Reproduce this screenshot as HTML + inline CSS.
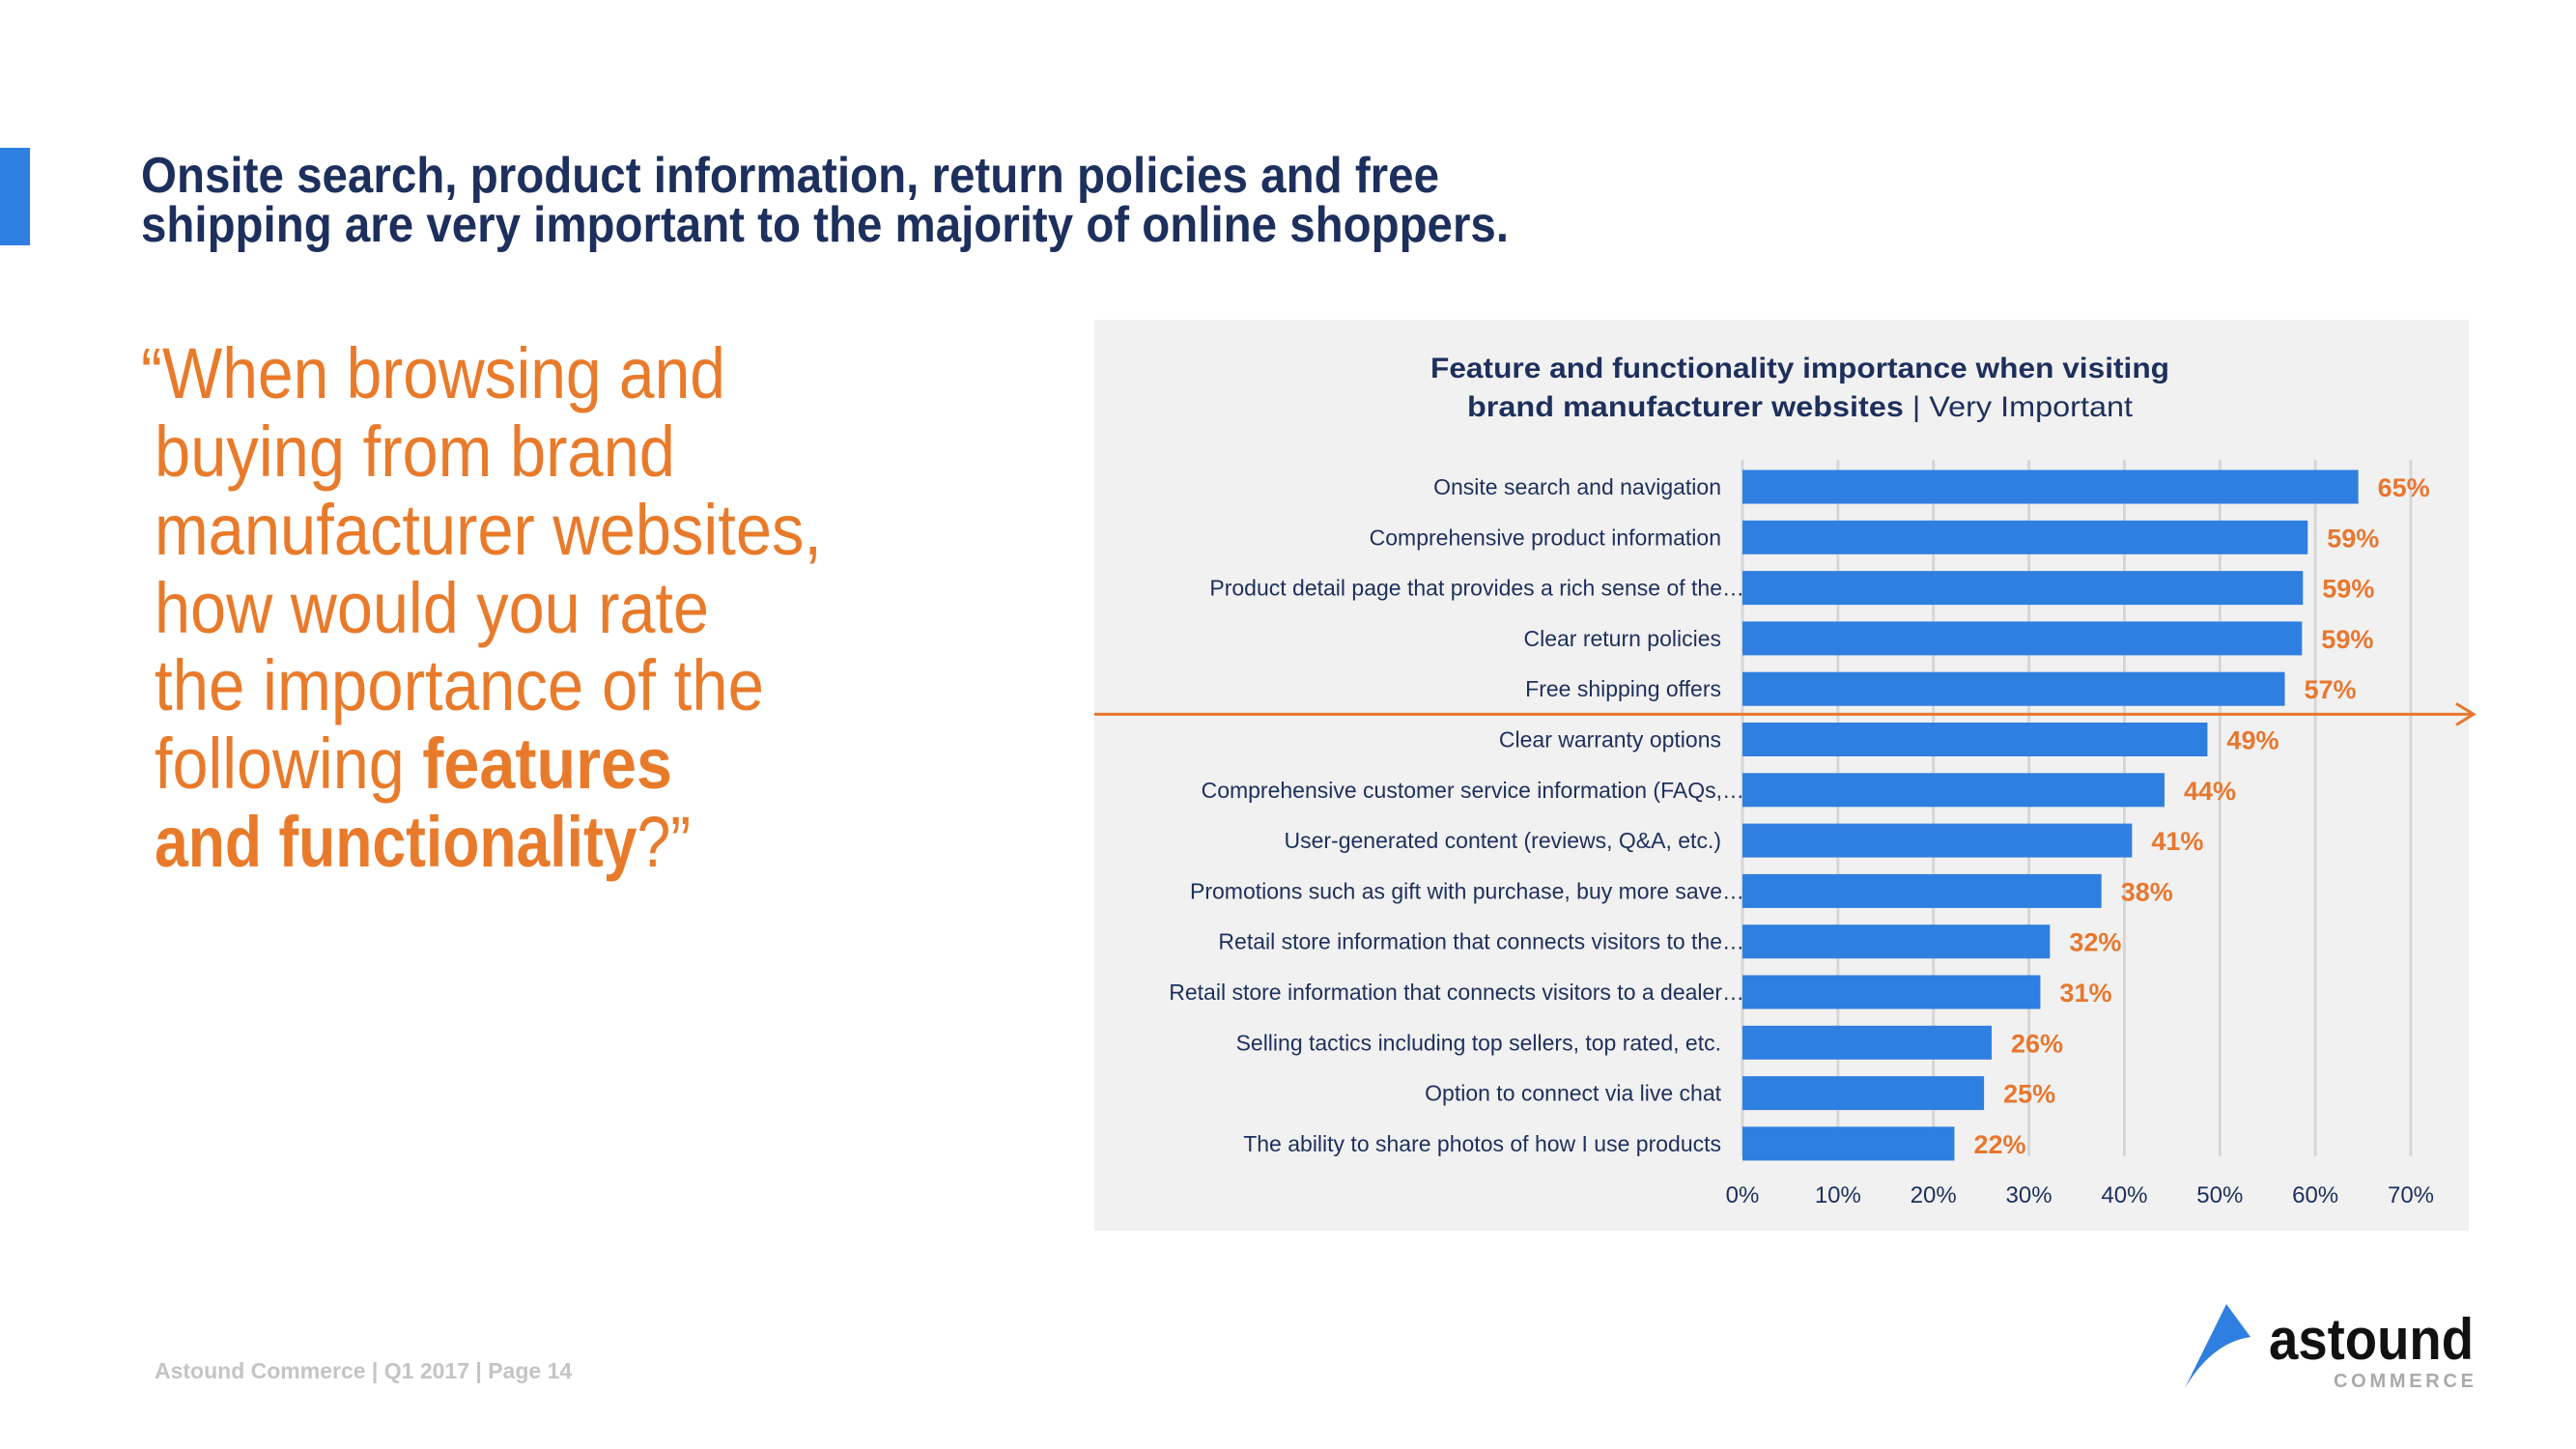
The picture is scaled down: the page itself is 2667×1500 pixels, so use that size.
<!DOCTYPE html>
<html><head><meta charset="utf-8">
<style>
html,body{margin:0;padding:0;background:#fff;}
svg{display:block;font-family:"Liberation Sans",sans-serif;}
</style></head>
<body>
<svg id="page" width="2667" height="1500" viewBox="0 0 2667 1500" xmlns="http://www.w3.org/2000/svg">
  <rect x="0" y="153" width="31" height="101" fill="#2f7fe0"/>
  <g fill="#1d2f5c" font-weight="bold" font-size="52">
    <text x="146" y="199" textLength="1344" lengthAdjust="spacingAndGlyphs">Onsite search, product information, return policies and free</text>
    <text x="146" y="250" textLength="1416" lengthAdjust="spacingAndGlyphs">shipping are very important to the majority of online shoppers.</text>
  </g>
  <g fill="#e87b2b" font-size="74">
    <text x="146" y="412" textLength="605" lengthAdjust="spacingAndGlyphs">“When browsing and</text>
    <text x="160" y="493" textLength="539" lengthAdjust="spacingAndGlyphs">buying from brand</text>
    <text x="160" y="574" textLength="691" lengthAdjust="spacingAndGlyphs">manufacturer websites,</text>
    <text x="160" y="655" textLength="574" lengthAdjust="spacingAndGlyphs">how would you rate</text>
    <text x="160" y="735" textLength="631" lengthAdjust="spacingAndGlyphs">the importance of the</text>
    <text x="160" y="816" textLength="536" lengthAdjust="spacingAndGlyphs">following <tspan font-weight="bold">features</tspan></text>
    <text x="160" y="897" textLength="555" lengthAdjust="spacingAndGlyphs"><tspan font-weight="bold">and functionality</tspan>?”</text>
  </g>
  <rect x="1133" y="331" width="1423" height="943" fill="#f1f1f1"/>
  <g fill="#1d2f5c" font-size="30">
    <text x="1481" y="391" textLength="765" lengthAdjust="spacingAndGlyphs" font-weight="bold">Feature and functionality importance when visiting</text>
    <text x="1519" y="431" textLength="689" lengthAdjust="spacingAndGlyphs"><tspan font-weight="bold">brand manufacturer websites</tspan> | Very Important</text>
  </g>
  <g id="chart"></g>
  <text x="160" y="1427" font-size="23" font-weight="bold" fill="#c4c4c4">Astound Commerce | Q1 2017 | Page 14</text>
  <g>
    <path d="M2262,1437 Q2290,1390 2330,1384 L2305,1350 Z" fill="#2f7fe0"/>
    <text x="2349" y="1407" font-size="60" font-weight="bold" fill="#111" textLength="212" lengthAdjust="spacingAndGlyphs">astound</text>
    <text x="2416" y="1436" font-size="20" font-weight="bold" fill="#aaa" textLength="145" lengthAdjust="spacing">COMMERCE</text>
  </g>
</svg>
<script>
const categories = [
  "Onsite search and navigation",
  "Comprehensive product information",
  "Product detail page that provides a rich sense of the…",
  "Clear return policies",
  "Free shipping offers",
  "Clear warranty options",
  "Comprehensive customer service information (FAQs,…",
  "User-generated content (reviews, Q&A, etc.)",
  "Promotions such as gift with purchase, buy more save…",
  "Retail store information that connects visitors to the…",
  "Retail store information that connects visitors to a dealer…",
  "Selling tactics including top sellers, top rated, etc.",
  "Option to connect via live chat",
  "The ability to share photos of how I use products"
];
const values = [64.5, 59.2, 58.7, 58.6, 56.8, 48.7, 44.2, 40.8, 37.6, 32.2, 31.2, 26.1, 25.3, 22.2];
const valueLabels = ["65%","59%","59%","59%","57%","49%","44%","41%","38%","32%","31%","26%","25%","22%"];
const ticks = [0, 10, 20, 30, 40, 50, 60, 70];
const tickLabels = ["0%","10%","20%","30%","40%","50%","60%","70%"];
const threshold = 4.5;

const NS = "http://www.w3.org/2000/svg";
const chart = document.getElementById("chart");
const x0 = 1804, x70 = 2496;
const xs = v => x0 + (v / 70) * (x70 - x0);
const yTop = 504, step = 52.3, barH = 35;
const yc = i => yTop + i * step;
function mk(tag, attrs){ const e = document.createElementNS(NS, tag); for (const k in attrs) e.setAttribute(k, attrs[k]); chart.appendChild(e); return e; }

ticks.forEach((t, i) => {
  const g = mk("line", {x1: xs(t), x2: xs(t), y1: 476, y2: 1197, stroke: "#d6d6d6", "stroke-width": 3});
  
  
  const tl = mk("text", {x: xs(t), y: 1245, "text-anchor": "middle", "font-size": 24, fill: "#1d2f5c"});
  tl.textContent = tickLabels[i];
  
  
});

categories.forEach((c, i) => {
  const y = yc(i);
  const b = mk("rect", {x: xs(0), y: y - barH / 2, width: xs(values[i]) - xs(0), height: barH, fill: "#2f7fe0"});
  
  
  const lab = mk("text", {x: c.endsWith("…") ? 1806 : 1782, y: y + 8, "text-anchor": "end", "font-size": 23, fill: "#1d2f5c"});
  lab.textContent = c;
  
  
  const vl = mk("text", {x: xs(values[i]) + 20, y: y + 10, "font-size": 27, "font-weight": "bold", fill: "#e8772e"});
  vl.textContent = valueLabels[i];
  
  
});

const ty = (yc(Math.floor(threshold)) + yc(Math.ceil(threshold))) / 2;
const tline = mk("line", {x1: 1133, x2: 2560, y1: ty, y2: ty, stroke: "#e8772e", "stroke-width": 3});


const arr = mk("polyline", {points: `2543,${ty-11} 2561,${ty} 2543,${ty+11}`, fill: "none", stroke: "#e8772e", "stroke-width": 3});


</script>
</body></html>
